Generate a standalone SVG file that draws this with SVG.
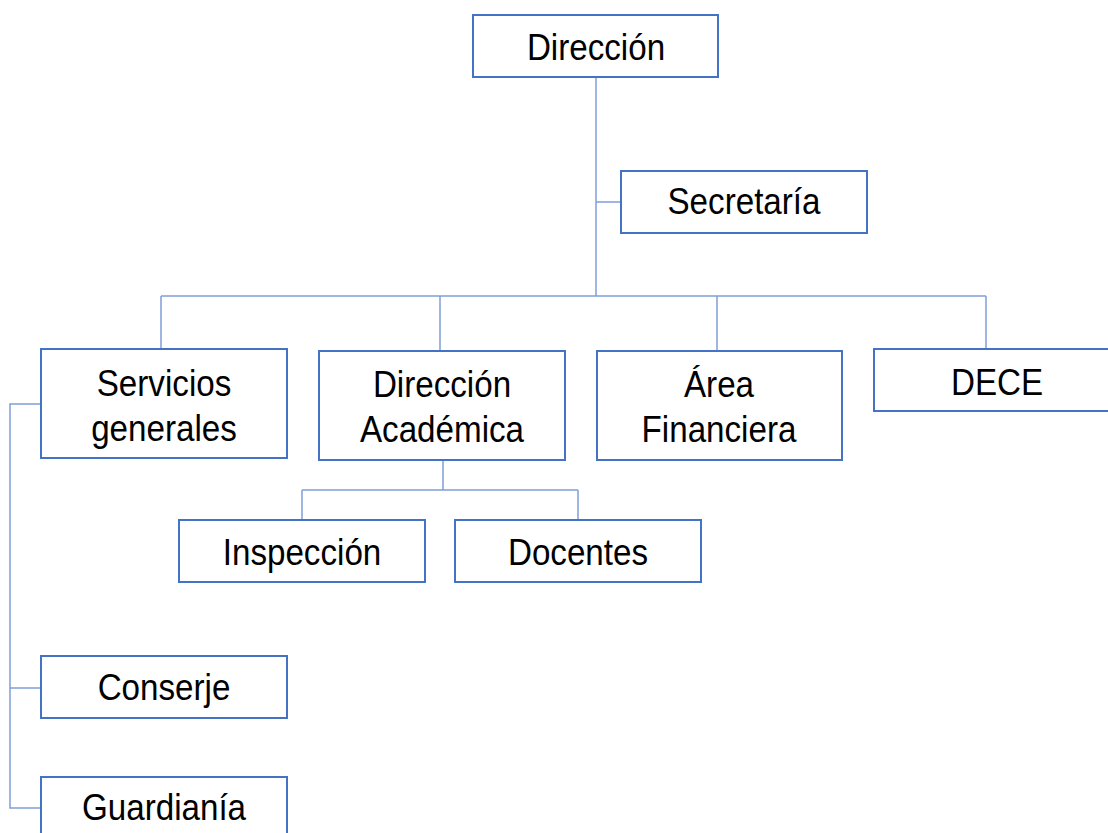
<svg xmlns="http://www.w3.org/2000/svg" width="1108" height="833" viewBox="0 0 1108 833">
<style>
.box{fill:#fff;stroke:#4472c4;stroke-width:2}
.ln{fill:none;stroke:#7f9fd8;stroke-width:1.5}
.t{font-family:"Liberation Sans",Arial,sans-serif;font-size:37.5px;fill:#000;text-anchor:middle}
</style>
<rect width="1108" height="833" fill="#fff"/>
<g id="connectors">
<path class="ln" d="M596 77V296M596 202H621"/>
<path class="ln" d="M161 296H986M161 296V349M440 296V351M717 296V351M986 296V349"/>
<path class="ln" d="M443 460V490M302 490H578M302 490V520M578 490V520"/>
<path class="ln" d="M41 404H10V808H41M10 688H41"/>
</g>
<g id="direccion"><rect class="box" x="473" y="15" width="245" height="62"/><text class="t" transform="matrix(0.885 0 0 1 596 60)">Dirección</text></g>
<g id="secretaria"><rect class="box" x="621" y="171" width="246" height="62"/><text class="t" transform="matrix(0.885 0 0 1 744 214)">Secretaría</text></g>
<g id="servicios"><rect class="box" x="41" y="349" width="246" height="109"/><text class="t" transform="matrix(0.885 0 0 1 164 396)">Servicios</text><text class="t" transform="matrix(0.885 0 0 1 164 441)">generales</text></g>
<g id="academica"><rect class="box" x="319" y="351" width="246" height="109"/><text class="t" transform="matrix(0.885 0 0 1 442 397)">Dirección</text><text class="t" transform="matrix(0.885 0 0 1 442 442)">Académica</text></g>
<g id="financiera"><rect class="box" x="597" y="351" width="245" height="109"/><text class="t" transform="matrix(0.885 0 0 1 719 397)">Área</text><text class="t" transform="matrix(0.885 0 0 1 719 442)">Financiera</text></g>
<g id="dece"><rect class="box" x="874" y="349" width="246" height="62"/><text class="t" transform="matrix(0.885 0 0 1 997 395)">DECE</text></g>
<g id="inspeccion"><rect class="box" x="179" y="520" width="246" height="62"/><text class="t" transform="matrix(0.885 0 0 1 302 565)">Inspección</text></g>
<g id="docentes"><rect class="box" x="455" y="520" width="246" height="62"/><text class="t" transform="matrix(0.885 0 0 1 578 565)">Docentes</text></g>
<g id="conserje"><rect class="box" x="41" y="656" width="246" height="62"/><text class="t" transform="matrix(0.885 0 0 1 164 700)">Conserje</text></g>
<g id="guardiania"><rect class="box" x="41" y="777" width="246" height="70"/><text class="t" transform="matrix(0.885 0 0 1 164 820)">Guardianía</text></g>
</svg>
